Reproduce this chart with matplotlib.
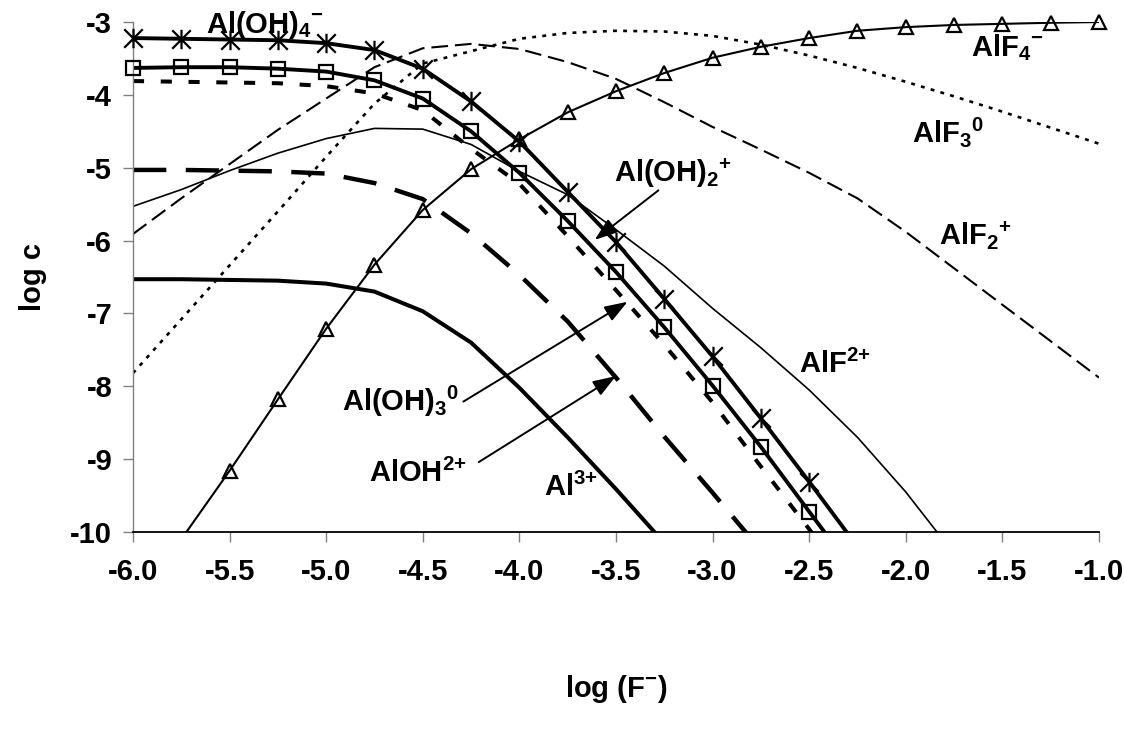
import matplotlib
matplotlib.use('Agg')
import matplotlib.pyplot as plt
import numpy as np
from matplotlib.path import Path

plt.rcParams['font.family'] = ['Liberation Sans', 'DejaVu Sans']
plt.rcParams['font.weight'] = 'bold'
plt.rcParams['mathtext.fontset'] = 'custom'
plt.rcParams['mathtext.rm'] = 'Liberation Sans:bold'
plt.rcParams['mathtext.it'] = 'Liberation Sans:bold'
plt.rcParams['mathtext.bf'] = 'Liberation Sans:bold'
plt.rcParams['mathtext.default'] = 'rm'
plt.rcParams['axes.unicode_minus'] = False
plt.rcParams['lines.scale_dashes'] = False

# x grid: log of free fluoride activity
log_f = [-6.0, -5.75, -5.5, -5.25, -5.0, -4.75, -4.5, -4.25, -4.0, -3.75, -3.5,
         -3.25, -3.0, -2.75, -2.5, -2.25, -2.0, -1.75, -1.5, -1.25, -1.0]

# log c of each species
al_oh4 = [-3.22, -3.23, -3.24, -3.25, -3.29, -3.385, -3.64, -4.09, -4.64, -5.33,
          -6.02, -6.80, -7.59, -8.44, -9.31, -10.2]
al_oh3 = [-3.63, -3.62, -3.62, -3.64, -3.68, -3.80, -4.05, -4.50, -5.07, -5.73,
          -6.43, -7.19, -7.99, -8.83, -9.72, -10.6]
al_oh2 = [-3.81, -3.82, -3.83, -3.84, -3.88, -3.98, -4.21, -4.74, -5.22, -5.94,
          -6.68, -7.43, -8.22, -9.10, -9.96, -10.85]
al_oh = [-5.03, -5.03, -5.04, -5.05, -5.08, -5.21, -5.43, -5.90, -6.47, -7.11,
         -7.88, -8.69, -9.46, -10.25]
al3 = [-6.53, -6.53, -6.54, -6.55, -6.59, -6.70, -6.97, -7.40, -8.02, -8.70,
       -9.41, -10.15, -10.9]
alf = [-5.53, -5.30, -5.04, -4.80, -4.60, -4.46, -4.47, -4.68, -5.05, -5.37,
       -5.85, -6.35, -6.93, -7.47, -8.05, -8.70, -9.45, -10.3]
alf2 = [-5.91, -5.42, -4.95, -4.48, -4.05, -3.62, -3.36, -3.30, -3.37, -3.55,
        -3.78, -4.10, -4.44, -4.75, -5.07, -5.42, -5.88, -6.38, -6.88, -7.38, -7.88]
alf3 = [-7.82, -7.08, -6.34, -5.60, -4.85, -4.12, -3.57, -3.40, -3.23, -3.15,
        -3.12, -3.13, -3.19, -3.31, -3.46, -3.63, -3.82, -4.02, -4.23, -4.45, -4.67]
alf4 = [-11.1, -10.1, -9.16, -8.18, -7.21, -6.33, -5.58, -5.02, -4.61, -4.24,
        -3.95, -3.70, -3.49, -3.34, -3.22, -3.12, -3.07, -3.04, -3.025, -3.01, -3.0]

xticks = [-6.0, -5.5, -5.0, -4.5, -4.0, -3.5, -3.0, -2.5, -2.0, -1.5, -1.0]
yticks = [-10, -9, -8, -7, -6, -5, -4, -3]

star = Path([(-1, -1), (1, 1), (-1, 1), (1, -1), (0, -1.05), (0, 1.05)],
            [Path.MOVETO, Path.LINETO] * 3)

fig = plt.figure(figsize=(11.24, 7.32), dpi=100)
ax = fig.add_axes([0.1183, 0.2732, 0.8594, 0.6967])


def series(y, marker=None, ms=0, **kw):
    x = np.array(log_f[:len(y)])
    y = np.array(y)
    ax.plot(x, y, color='black', solid_joinstyle='miter', **kw)
    if marker is not None:
        keep = (y >= -10) & (y <= -3)
        ax.plot(x[keep], y[keep], ls='none', marker=marker, ms=ms, mew=1.6,
                mfc='none', mec='black', clip_on=False, zorder=5)


series(al_oh4, marker=star, ms=14, lw=2.8)
series(al_oh3, marker='s', ms=9.5, lw=2.8)
series(al_oh2, lw=2.9, dashes=(8, 12))
series(al_oh, lw=3.2, dashes=(24, 14))
series(al3, lw=2.9)
series(alf, lw=1.2)
series(alf2, lw=1.5, dashes=(12, 5))
series(alf3, lw=1.9, dashes=(2.8, 4.5))
series(alf4, marker='^', ms=9.5, lw=1.5)

ax.set_xlim(-6, -1)
ax.set_ylim(-10, -3)
ax.set_xticks(xticks)
ax.set_xticklabels(['%.1f' % v for v in xticks])
ax.set_yticks(yticks)
ax.set_yticklabels(['%d' % v for v in yticks])
ax.tick_params(axis='x', direction='out', length=7, width=1, color='#808080',
               labelsize=21, pad=12)
ax.tick_params(axis='y', direction='out', length=7, width=1, color='#808080',
               labelsize=21, pad=8)
ax.spines['top'].set_visible(False)
ax.spines['right'].set_visible(False)
ax.spines['left'].set_color('#808080')
ax.spines['left'].set_linewidth(1)
ax.spines['bottom'].set_color('black')
ax.spines['bottom'].set_linewidth(1.3)

ax.set_xlabel('log (F$^{-}$)', fontsize=21, fontweight='bold', labelpad=62)
ax.set_ylabel('log c', fontsize=21, fontweight='bold', labelpad=17)

lab = dict(fontsize=21, fontweight='bold', ha='left', va='baseline')
ax.text(-5.62, -3.15, 'Al(OH)$_4{}^{-}$', **lab)
ax.text(-1.66, -3.47, 'AlF$_4{}^{-}$', **lab)
ax.text(-1.97, -4.65, 'AlF$_3{}^0$', **lab)
ax.text(-1.83, -6.06, 'AlF$_2{}^{+}$', **lab)
ax.text(-2.55, -7.82, 'AlF$^{2{+}}$', **lab)
ax.text(-3.51, -5.19, 'Al(OH)$_2{}^{+}$', **lab)
ax.text(-4.92, -8.34, 'Al(OH)$_3{}^0$', **lab)
ax.text(-4.78, -9.31, 'AlOH$^{2{+}}$', **lab)
ax.text(-3.87, -9.51, 'Al$^{3{+}}$', **lab)

arrow = dict(arrowstyle='-|>,head_length=0.7,head_width=0.25', color='black',
             lw=1.4, mutation_scale=20, shrinkA=0, shrinkB=0)
ax.annotate('', xy=(-3.61, -5.99), xytext=(-3.28, -5.31), arrowprops=arrow)
ax.annotate('', xy=(-3.44, -6.84), xytext=(-4.29, -8.21), arrowprops=arrow)
ax.annotate('', xy=(-3.50, -7.86), xytext=(-4.21, -9.04), arrowprops=arrow)

fig.savefig('out.png', dpi=100)
